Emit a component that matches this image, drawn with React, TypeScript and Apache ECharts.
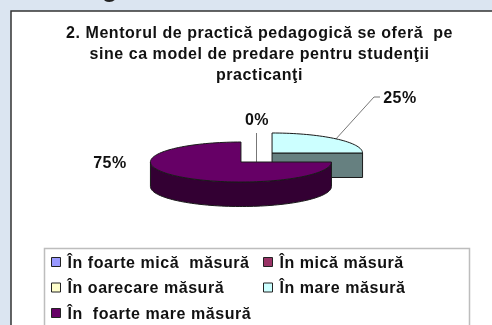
import React, { useEffect, useRef } from "react";
import * as echarts from "echarts";

const titleLines = [
  "2. Mentorul de practică pedagogică se oferă  pe",
  "sine ca model de predare pentru studenţii",
  "practicanţi",
];
const categories = [
  "În foarte mică  măsură",
  "În mică măsură",
  "În oarecare măsură",
  "În mare măsură",
  "În  foarte mare măsură",
];
const values = [0, 0, 0, 25, 75];
const topColors = ["#9999FF", "#993366", "#FFFFCC", "#CCFFFF", "#660066"];
const sideColors = ["#4d4d80", "#4d1a33", "#808066", "#668080", "#330033"];

const FONT = "'Liberation Sans', Arial, sans-serif";
const CX = 256.5, CY = 157.5, RX = 90.5, RY = 20, DEPTH = 24.5, EXPLODE = 22, EXPLODE_TILT = 0.29;
const EDGE = "#1a1a1a";

type Spot = { x: number; y: number; line: number[][] | null; fromRim?: boolean };
const spots: Record<number, Spot> = {
  2: { x: 257, y: 119, line: [[256.5, 133], [256.5, 163]] },
  3: { x: 400, y: 97, line: [[374, 97], [380, 97]], fromRim: true },
  4: { x: 110, y: 162, line: null },
};

const total = values.reduce((a, b) => a + b, 0);

function sliceRenderer(idx: number) {
  return (_p: any, api: any) => {
    const v = api.value(0);
    const before = values.slice(0, idx).reduce((a, b) => a + b, 0);
    const a0 = (before / total) * Math.PI * 2;
    const a1 = ((before + v) / total) * Math.PI * 2;
    const mid = (a0 + a1) / 2;
    const ox = CX + EXPLODE * Math.sin(mid);
    const oy = CY - EXPLODE * EXPLODE_TILT * Math.cos(mid);
    const pt = (a: number, d = 0) => [ox + RX * Math.sin(a), oy - RY * Math.cos(a) + d];
    const arc = (from: number, to: number, d = 0) => {
      const out: number[][] = [];
      const n = Math.max(2, Math.ceil(Math.abs(to - from) / 0.04));
      for (let i = 0; i <= n; i++) out.push(pt(from + ((to - from) * i) / n, d));
      return out;
    };
    const children: any[] = [];
    const spot = spots[idx];
    if (spot && spot.line) {
      const pts = spot.fromRim ? [pt(mid), ...spot.line] : spot.line;
      children.push({
        type: "polyline",
        shape: { points: pts },
        style: { fill: "none", stroke: "#777777", lineWidth: 1 },
      });
    }
    if (v > 0) {
      const edge = { stroke: EDGE, lineWidth: 1, lineJoin: "round" };
      const frontFrom = Math.max(a0, Math.PI / 2);
      const frontTo = Math.min(a1, (Math.PI * 3) / 2);
      if (a0 <= Math.PI / 2 && a1 <= Math.PI / 2 + 0.001) {
        const c = [ox, oy];
        const e = pt(a1);
        children.push({
          type: "polygon",
          shape: { points: [c, e, [e[0], e[1] + DEPTH], [c[0], c[1] + DEPTH]] },
          style: { fill: sideColors[idx], ...edge },
        });
      }
      if (frontTo > frontFrom) {
        children.push({
          type: "polygon",
          shape: { points: [...arc(frontFrom, frontTo), ...arc(frontTo, frontFrom, DEPTH)] },
          style: { fill: sideColors[idx], ...edge },
        });
      }
      children.push({
        type: "polygon",
        shape: { points: [[ox, oy], ...arc(a0, a1)] },
        style: { fill: topColors[idx], ...edge },
      });
    }
    if (spot) {
      children.push({
        type: "text",
        style: {
          x: spot.x,
          y: spot.y,
          text: `${v}%`,
          fill: "#111111",
          font: `bold 16px ${FONT}`,
          textAlign: "center",
          textVerticalAlign: "middle",
        },
      });
    }
    return { type: "group", children };
  };
}

export default function App() {
  const ref = useRef<HTMLDivElement>(null);
  useEffect(() => {
    document.body.style.margin = "0";
    const chart = echarts.init(ref.current!, null, { renderer: "svg" });
    const legendBase = {
      orient: "vertical" as const,
      top: 254,
      itemWidth: 9,
      itemHeight: 9,
      itemGap: 9.5,
      icon: "rect",
      selectedMode: false,
      padding: 0,
      textStyle: { fontFamily: FONT, fontWeight: "bold" as const, fontSize: 16, color: "#111111", padding: [0, 0, 0, 2], lineHeight: 16 },
      itemStyle: { borderColor: "#222222", borderWidth: 1 },
    };
    chart.setOption({
      animation: false,
      backgroundColor: "#DBE5F1",
      title: {
        text: titleLines.join("\n"),
        left: 259.5,
        top: 22,
        textAlign: "center",
        padding: 0,
        textStyle: { fontFamily: FONT, fontWeight: "bold", fontSize: 16, lineHeight: 21, color: "#111111" },
      },
      legend: [
        { ...legendBase, left: 51, data: [categories[0], categories[2], categories[4]] },
        { ...legendBase, left: 263, data: [categories[1], categories[3]] },
      ],
      graphic: [
        { type: "rect", z: 0, shape: { x: 11, y: 11, width: 500, height: 330 }, style: { fill: "#FFFFFF", stroke: "#333333", lineWidth: 1.5 } },
        { type: "rect", z: 1, shape: { x: 44.5, y: 248.5, width: 425, height: 90 }, style: { fill: "#FFFFFF", stroke: "#BDBDBD", lineWidth: 1.5 } },
        { type: "text", z: 0, style: { x: 110, y: 0, text: "g", fill: "#222222", font: `bold 27px ${FONT}`, textAlign: "center", textVerticalAlign: "bottom" }, },
      ],
      series: categories.map((name, i) => ({
        type: "custom",
        name,
        coordinateSystem: "none",
        silent: true,
        itemStyle: { color: topColors[i] },
        data: [values[i]],
        renderItem: sliceRenderer(i),
      })),
    });
    return () => chart.dispose();
  }, []);
  return <div ref={ref} style={{ width: 492, height: 325, letterSpacing: "0.55px", filter: "blur(0.35px)" }} />;
}
